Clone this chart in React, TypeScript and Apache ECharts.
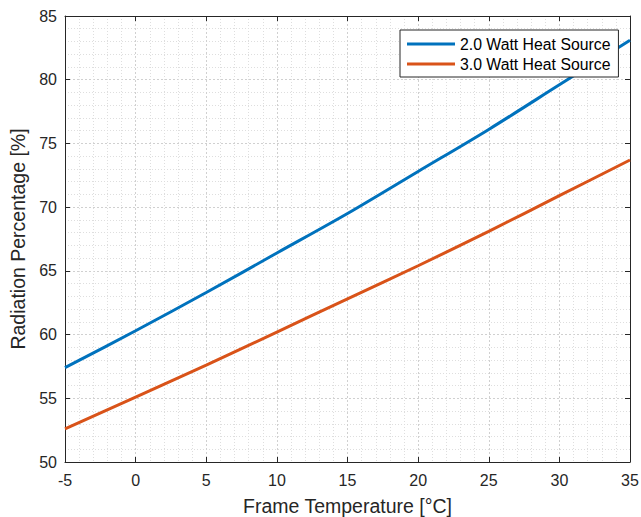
import React, { useEffect, useRef } from "react";
import * as echarts from "echarts";

// Frame temperature (°C) at which radiation share was evaluated
const temperatures = [-5, 0, 5, 10, 15, 20, 25, 30, 35];
// Radiation percentage for each heat source power
const radiation2W = [57.4, 60.3, 63.3, 66.4, 69.5, 72.8, 76.1, 79.6, 83.1];
const radiation3W = [52.6, 55.1, 57.6, 60.2, 62.8, 65.4, 68.1, 70.9, 73.7];
const seriesNames = ["2.0 Watt Heat Source", "3.0 Watt Heat Source"];
const xAxisTitle = "Frame Temperature [°C]";
const yAxisTitle = "Radiation Percentage [%]";

const FONT = "'Liberation Sans', Arial, Helvetica, sans-serif";
const INK = "#262626";

export default function App() {
  const ref = useRef<HTMLDivElement>(null);

  useEffect(() => {
    if (!ref.current) return;
    const chart = echarts.init(ref.current, undefined, { renderer: "svg" });

    const toPairs = (ys: number[]) => temperatures.map((t, i) => [t, ys[i]]);

    const majorGrid = { show: true, lineStyle: { color: "#d0d0d0", type: [2, 2] as number[], width: 1 } };
    const minorGrid = { show: true, lineStyle: { color: "#dedede", type: [1, 2] as number[], width: 1 } };
    const tick = { show: true, inside: true, length: 5, lineStyle: { color: INK } };
    const line = { show: true, onZero: false, lineStyle: { color: INK, width: 1 } };

    chart.setOption({
      animation: false,
      backgroundColor: "#ffffff",
      textStyle: { fontFamily: FONT },
      grid: { left: 65, right: 11, top: 16, bottom: 55, containLabel: false, outerBoundsMode: "none" },
      legend: {
        orient: "vertical",
        left: 400,
        top: 30,
        padding: [6, 8, 5, 7],
        itemGap: 4,
        itemWidth: 48,
        itemHeight: 3,
        icon: "rect",
        backgroundColor: "#ffffff",
        borderColor: INK,
        borderWidth: 1,
        borderRadius: 0,
        textStyle: { fontFamily: FONT, fontSize: 15.8, color: "#000000", lineHeight: 16, padding: [0, 0, 0, 0] },
        data: seriesNames,
      },
      xAxis: [
        {
          type: "value",
          min: -5,
          max: 35,
          interval: 5,
          position: "bottom",
          name: xAxisTitle,
          nameLocation: "middle",
          nameGap: 34,
          nameTextStyle: { fontFamily: FONT, fontSize: 19.5, color: INK },
          axisLine: line,
          axisTick: tick,
          axisLabel: { fontFamily: FONT, fontSize: 16, color: INK, margin: 10 },
          splitLine: majorGrid,
          minorTick: { show: false, splitNumber: 5 },
          minorSplitLine: minorGrid,
        },
        {
          type: "value",
          min: -5,
          max: 35,
          interval: 5,
          position: "top",
          axisLine: line,
          axisTick: tick,
          axisLabel: { show: false },
          splitLine: { show: false },
        },
      ],
      yAxis: [
        {
          type: "value",
          min: 50,
          max: 85,
          interval: 5,
          position: "left",
          name: yAxisTitle,
          nameLocation: "middle",
          nameGap: 32,
          nameTextStyle: { fontFamily: FONT, fontSize: 19.5, color: INK },
          axisLine: line,
          axisTick: tick,
          axisLabel: { fontFamily: FONT, fontSize: 16, color: INK, margin: 8 },
          splitLine: majorGrid,
          minorTick: { show: false, splitNumber: 5 },
          minorSplitLine: minorGrid,
        },
        {
          type: "value",
          min: 50,
          max: 85,
          interval: 5,
          position: "right",
          axisLine: line,
          axisTick: tick,
          axisLabel: { show: false },
          splitLine: { show: false },
        },
      ],
      series: [
        {
          name: seriesNames[0],
          type: "line",
          data: toPairs(radiation2W),
          symbol: "none",
          smooth: 0.3,
          color: "#0072BD",
          lineStyle: { color: "#0072BD", width: 3 },
          z: 3,
        },
        {
          name: seriesNames[1],
          type: "line",
          data: toPairs(radiation3W),
          symbol: "none",
          smooth: 0.3,
          color: "#D95319",
          lineStyle: { color: "#D95319", width: 3 },
          z: 3,
        },
      ],
    });

    return () => chart.dispose();
  }, []);

  return (
    <div
      ref={ref}
      style={{ position: "absolute", left: 0, top: 0, width: 641, height: 517, background: "#fff" }}
    />
  );
}
